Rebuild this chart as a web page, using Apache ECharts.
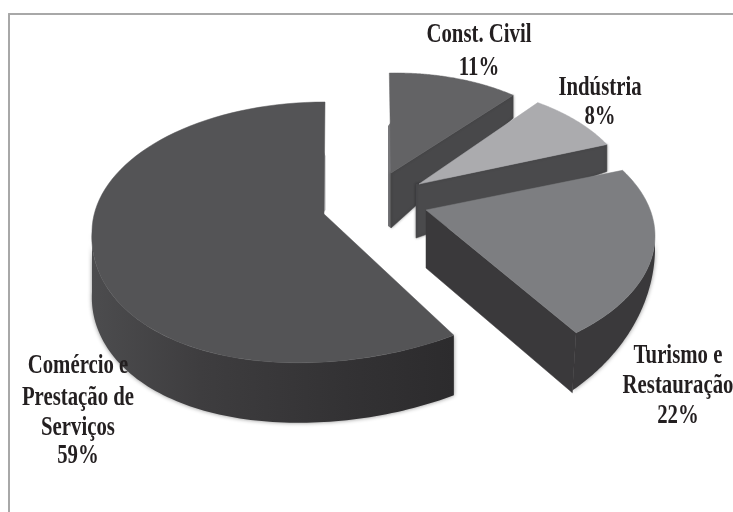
<!DOCTYPE html>
<html><head><meta charset="utf-8">
<style>html,body{margin:0;padding:0;background:#fff}#c{width:733px;height:512px}</style>
<script src="https://cdn.jsdelivr.net/npm/echarts@6/dist/echarts.min.js"></script>
</head><body><div id="c"></div>
<script>
// Data: clockwise from the top of the pie
const categories = ['Const. Civil', 'Indústria', 'Turismo e\nRestauração', 'Comércio e\nPrestação de\nServiços'];
const values = [11, 8, 22, 59];

// Layout of the exploded, tilted slices (chart pixels)
const apexes   = [[391,173],[419,184],[426,210],[324,214]];
const centers  = [[396,180],[425,198],[422,236],[325,232]];
const radiiX   = [192,206,233,233];
const radiiY   = [107,114,129,130];
const rotations= [-2,-6.4,-9,0];
const shearFront = [0,0,0,-0.06];
const stretchFront = [0,0,0,0.038];
const depthArc = [[0,0],[0,0],[15,57],[60,0]];
const wallLean = [0,0,-5,0];
const depthApex= [55,54,58,0];
const depthEnd = [23,27,60,0];
const apexBottomShift = [0,-3,0,0];
const edgeSliver = [[-3,-51,55,'#77777a',3],null,null,[1.5,-62,-2,'#b4b4b6',1.5]];
const faceColors = ['#636365','#ababae','#7d7e81','#545456'];
const wallColors = ['#48484a','#4a4a4c','#3a393b','#3c3b3d'];
const labelCenters = [[479,[35,68]],[600,[88,117]],[678,[356,386,416]],[78,[366,398,428,456]]];
const textColor = '#231f20';
const total = values.reduce((a,b)=>a+b,0);

function renderSlice(params, api){
  const i = api.value(0);
  let before = 0; for(let k=0;k<i;k++) before += values[k];
  const t0 = before/total*360 + rotations[i];
  const t1 = (before+api.value(1))/total*360 + rotations[i];
  const P = t => { const a=t*Math.PI/180, u=Math.sin(a), v=-Math.cos(a), f=Math.max(v,0);
    const dx=radiiX[i]*u*(1+stretchFront[i]*f);
    return {x:centers[i][0]+dx, y:centers[i][1]+radiiY[i]*v+shearFront[i]*f*dx, v}; };
  const C = (x,y)=>api.coord([x,y]);
  const A = apexes[i];
  const children = [];
  const N = 90;
  // thin soft edge next to the straight cut
  if (edgeSliver[i]) {
    const s=edgeSliver[i];
    children.push({type:'polygon',shape:{points:[
      C(A[0],A[1]+s[1]),C(A[0]+s[0],A[1]+s[1]+4),C(A[0]+s[0],A[1]+s[2]-2),C(A[0],A[1]+s[2])]},
      style:{fill:s[3]}});
  }
  // outer wall, the front part of the rim
  const w0 = Math.max(t0,90), w1 = Math.min(t1,270);
  const hasRim = w1>w0 && (depthArc[i][0]||depthArc[i][1]);
  if (hasRim) {
    const top=[],bot=[];
    for(let k=0;k<=N;k++){ const p=P(w0+(w1-w0)*k/N);
      const d=depthArc[i][0]+depthArc[i][1]*p.v;
      top.push(C(p.x,p.y)); bot.push(C(p.x+wallLean[i]*Math.max(p.v,0),p.y+d)); }
    const fill = i===3 ? new echarts.graphic.LinearGradient(1,0,0,0,[
      {offset:0,color:'#2c2b2d'},{offset:.3,color:'#333234'},{offset:.7,color:'#3e3d3f'},{offset:1,color:'#4c4c4e'}]) : wallColors[i];
    children.push({type:'polygon',shape:{points:top.concat(bot.slice().reverse())},
      style:{fill,shadowBlur:4,shadowColor:'rgba(0,0,0,0.45)'}});
  }
  // radial cut wall at the clockwise end of the slice
  if (depthApex[i]) {
    const e=P(t1);
    children.push({type:'polygon',shape:{points:[
      C(A[0],A[1]),C(e.x,e.y),C(e.x+wallLean[i]*Math.max(e.v,0),e.y+depthEnd[i]),
      C(A[0]+apexBottomShift[i],A[1]+depthApex[i]),C(A[0]+apexBottomShift[i],A[1])]},
      style:{fill:wallColors[i],stroke:wallColors[i],lineWidth:.5,
        shadowBlur:hasRim?0:3,shadowColor:'rgba(0,0,0,0.4)'}});
  }
  // top face
  const face=[C(A[0],A[1])];
  for(let k=0;k<=N;k++){ const p=P(t0+(t1-t0)*k/N); face.push(C(p.x,p.y)); }
  children.push({type:'polygon',shape:{points:face},style:{fill:faceColors[i],stroke:faceColors[i],lineWidth:.5}});
  // labels: tall, condensed bold serif
  const lines = categories[i].split('\n').concat([api.value(1)+'%']);
  const lc = labelCenters[i];
  lines.forEach((s,k)=>{ const pt=C(lc[0],lc[1][k]);
    children.push({type:'text',x:pt[0],y:pt[1],scaleX:.77,scaleY:1,z2:100,
      style:{text:s,fill:textColor,font:'bold 27px "Liberation Serif"',textAlign:'center',textVerticalAlign:'middle'}});
  });
  return {type:'group',children};
}

const chart = echarts.init(document.getElementById('c'),null,{renderer:'canvas'});
const axisLine = {show:true,onZero:false,lineStyle:{color:'#a8a8a8',width:2}};
chart.setOption({
  animation:false,
  backgroundColor:'#fff',
  grid:{left:9,right:0,top:14,bottom:0},
  xAxis:{type:'value',position:'top',min:9,max:733,axisLine,axisTick:{show:false},axisLabel:{show:false},splitLine:{show:false}},
  yAxis:{type:'value',inverse:true,min:14,max:512,axisLine,axisTick:{show:false},axisLabel:{show:false},splitLine:{show:false}},
  series:[{type:'custom',coordinateSystem:'cartesian2d',silent:true,clip:false,
    encode:{x:0,y:1},renderItem:renderSlice,
    data:values.map((v,i)=>[i,v])}]
});
</script></body></html>
